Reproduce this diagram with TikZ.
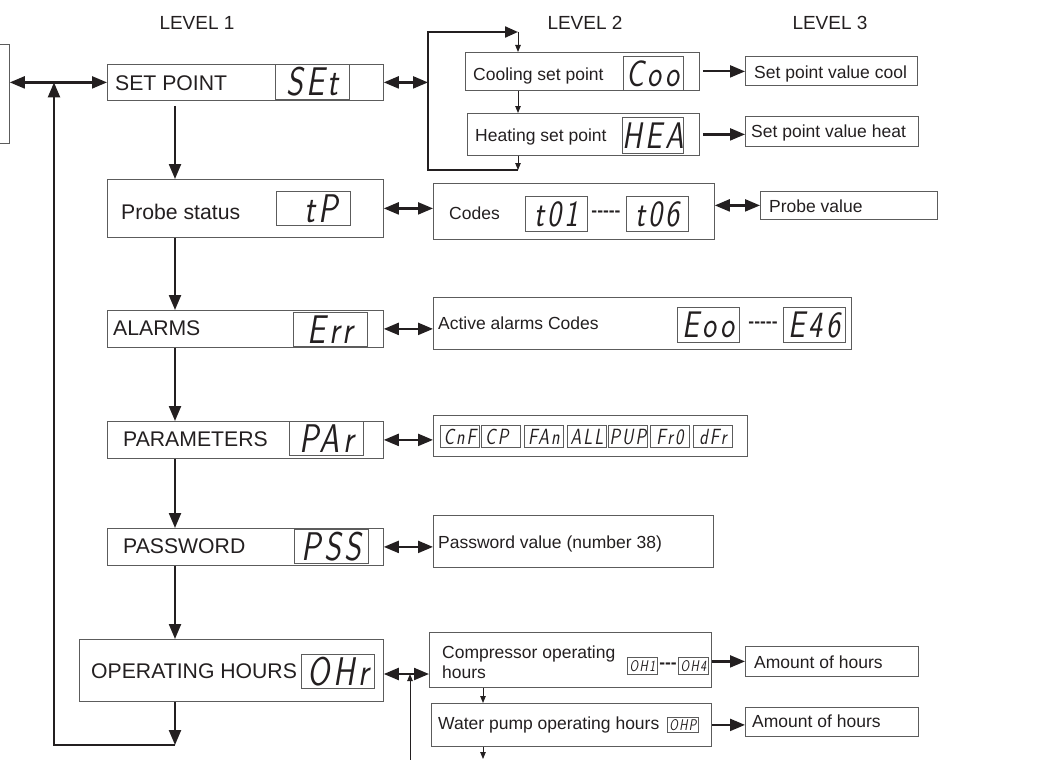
\documentclass[tikz,border=0pt]{standalone}
\usepackage{fontspec}
\setmainfont{Liberation Sans}
\newfontfamily\segfont{lmsans17-oblique}[Extension=.otf,FakeStretch=0.8,LetterSpace=9]
\usetikzlibrary{arrows.meta,positioning}
\definecolor{ink}{HTML}{231F20}
\definecolor{frame}{HTML}{5C5C5C}
\tikzset{
  >={Triangle[length=15pt,width=12pt]},
  % boxes
  box/.style n args={2}{draw=frame,line width=0.8pt,inner sep=0pt,anchor=north west,
             minimum width=#1pt,minimum height=#2pt},
  disp/.style n args={2}{draw=frame,line width=0.8pt,inner sep=0pt,anchor=north west,
             minimum width=#1pt,minimum height=#2pt},
  segL/.style={font=\segfont\fontsize{40}{40}\selectfont,text height=27.5pt,text depth=0pt},
  segM/.style={font=\segfont\fontsize{37}{37}\selectfont,text height=25.5pt,text depth=0pt},
  segS/.style={font=\segfont\fontsize{22}{22}\selectfont,text height=15.2pt,text depth=0pt},
  segT/.style={font=\segfont\fontsize{15.5}{16}\selectfont,text height=10.7pt,text depth=0pt},
  head/.style={font=\fontsize{19}{21}\selectfont,inner sep=0pt},
  lab1/.style={font=\fontsize{21.2}{23}\selectfont,anchor=west,inner sep=0pt,
             text height=15.2pt,text depth=0pt},
  lab2/.style={font=\fontsize{17.5}{20}\selectfont,anchor=west,inner sep=0pt,
             text height=12.5pt,text depth=0pt},
  dots/.style={font=\bfseries\fontsize{17.5}{20}\selectfont,inner sep=0pt},
  % connectors
  flow/.style={draw=ink,line width=2.2pt},
  lite/.style={draw=ink,line width=0.9pt,-{Triangle[length=7pt,width=5.5pt]}},
}
\begin{document}
\begin{tikzpicture}[x=1pt,y=-1pt,every node/.append style={text=ink}]
  \useasboundingbox (0,0) rectangle (1041,760);
  \clip (0,0) rectangle (1041,760);

  % level titles
  \node[head] (lv1) at (197,23) {LEVEL 1};
  \node[head] (lv2) at (585,23) {LEVEL 2};
  \node[head] (lv3) at (830,23) {LEVEL 3};

  % level 1
  \node[box={50}{99}] (menu) at (-41,44) {};
  \node[box={276}{36}] (setp) at (107,64) {};
  \node[lab1] (setpt) at (115,83) {SET POINT};
  \node[disp={74}{35},segL] (setpd) at (275,64) {SEt};
  \node[box={276}{58}] (probe) at (107,179) {};
  \node[lab1] (probet) at (121,212) {Probe status};
  \node[disp={74}{34},segL] (probed) at (276,191) {\hphantom{0}tP};
  \node[box={276}{37}] (alarm) at (107,310) {};
  \node[lab1] (alarmt) at (113,328) {ALARMS};
  \node[disp={74}{34},segL] (alarmd) at (293,312) {Err};
  \node[box={276}{37}] (param) at (107,421) {};
  \node[lab1] (paramt) at (123,439) {PARAMETERS};
  \node[disp={74}{34},segL] (paramd) at (289,421) {PAr};
  \node[box={276}{37}] (pass) at (107,528) {};
  \node[lab1] (passt) at (123,546) {PASSWORD};
  \node[disp={74}{34},segL] (passd) at (294,529) {PSS};
  \node[box={304}{62}] (ophr) at (79,639) {};
  \node[lab1] (ophrt) at (91,671) {OPERATING HOURS};
  \node[disp={73}{34},segL] (ophrd) at (301,654) {OHr};

  % level 2
  \node[box={234}{38}] (cool) at (465,52) {};
  \node[lab2] (coolt) at (473,74) {Cooling set point};
  \node[disp={60}{34},segM] (coold) at (623,56) {Coo};
  \node[box={232}{42}] (heat) at (467,113) {};
  \node[lab2] (heatt) at (475,135) {Heating set point};
  \node[disp={60}{36},segM] (heatd) at (622,117) {HEA};
  \node[box={281}{56}] (codes) at (433,183) {};
  \node[lab2] (codest) at (449,213) {Codes};
  \node[disp={62}{35},segM] (tfirst) at (525,196) {t01};
  \node[dots] (dashA) at (606,214) {-{}-{}-{}-{}-};
  \node[disp={62}{35},segM] (tlast) at (626,196) {t06};
  \node[box={418}{52}] (active) at (433,297) {};
  \node[lab2] (activet) at (438,323) {Active alarms Codes};
  \node[disp={62}{35},segM] (efirst) at (677,307) {Eoo};
  \node[dots] (dashB) at (763,325) {-{}-{}-{}-{}-};
  \node[disp={62}{35},segM] (elast) at (783,307) {E46};
  \node[box={314}{41}] (parcodes) at (433,415) {};
  \node[disp={39}{22},segS] (pcnf) at (440,425) {CnF};
  \node[disp={39}{22},segS] (pcp) at (481,425) {CP\hphantom{0}};
  \node[disp={39}{22},segS] (pfan) at (524,425) {FAn};
  \node[disp={39}{22},segS] (pall) at (567,425) {ALL};
  \node[disp={39}{22},segS] (ppup) at (608,425) {PUP};
  \node[disp={39}{22},segS] (pfro) at (650,425) {Fr0};
  \node[disp={39}{22},segS] (pdfr) at (693,425) {dFr};
  \node[box={280}{52}] (pwval) at (433,515) {};
  \node[lab2] (pwvalt) at (438,542) {Password value (number 38)};
  \node[box={282}{55}] (comp) at (429,632) {};
  \node[lab2,anchor=north west,align=left,text height=,text depth=] (compt) at (442,646)
    {Compressor operating\\hours};
  \node[disp={30}{17},segT] (ohfirst) at (627,657) {OH1};
  \node[dots] (dashC) at (668,666) {-{}-{}-};
  \node[disp={30}{17},segT] (ohlast) at (678,657) {OH4};
  \node[box={280}{43}] (pump) at (431,703) {};
  \node[lab2] (pumpt) at (438,723) {Water pump operating hours};
  \node[disp={31}{15},segT] (ohp) at (667,717) {OHP};

  % level 3
  \node[box={172}{29}] (coolv) at (745,56) {};
  \node[lab2] (coolvt) at (754,72) {Set point value cool};
  \node[box={173}{30}] (heatv) at (745,116) {};
  \node[lab2] (heatvt) at (751,131) {Set point value heat};
  \node[box={177}{28}] (probev) at (760,191) {};
  \node[lab2] (probevt) at (769,206) {Probe value};
  \node[box={173}{30}] (hours) at (745,646) {};
  \node[lab2] (hourst) at (754,662) {Amount of hours};
  \node[box={173}{29}] (pumph) at (745,707) {};
  \node[lab2] (pumpht) at (752,721) {Amount of hours};

  % helper points
  \coordinate (spine) at (175,0);
  \coordinate (ret) at (54,745);
  \coordinate (retend) at (175,745);
  \coordinate (barT) at (428,32);
  \coordinate (barB) at (428,170);
  \coordinate (lvx) at (518,0);
  \coordinate (pumpx) at (483,0);
  \coordinate (pumpfoot) at (483,759);
  \coordinate (opj) at (410,674);
  \coordinate (opfoot) at (410,765);

  % level 1 chain
  \draw[flow,<->] (menu.east |- setp.west) -- (setp.west);
  \draw[flow,->] ([yshift=-5pt]setp.south -| spine) -- (probe.north -| spine);
  \draw[flow,->] (probe.south -| spine) -- (alarm.north -| spine);
  \draw[flow,->] (alarm.south -| spine) -- (param.north -| spine);
  \draw[flow,->] (param.south -| spine) -- (pass.north -| spine);
  \draw[flow,->] (pass.south -| spine) -- (ophr.north -| spine);
  \draw[flow,->] (ophr.south -| spine) -- (retend);
  \draw[flow,->] (retend) -- (ret) -- (ret |- setp.west);

  % level 1 <-> level 2
  \draw[flow,<->] (setp.east) -- (setp.east -| barT);
  \draw[flow,-{Triangle[length=13pt,width=11pt]}] (barB -| lvx) -- (barB) -- (barT) -- (barT -| lvx);
  \draw[lite] (barT -| lvx) -- (cool.north -| lvx);
  \draw[lite] (cool.south -| lvx) -- (heat.north -| lvx);
  \draw[lite] (heat.south -| lvx) -- (barB -| lvx);
  \draw[flow,<->] (probe.east) -- (probe.east -| codes.west);
  \draw[flow,<->] (alarm.east) -- (alarm.east -| active.west);
  \draw[flow,<->] (param.east) -- (param.east -| parcodes.west);
  \draw[flow,<->] (pass.east) -- (pass.east -| pwval.west);
  \draw[flow,<->] (ophr.east |- opj) -- (comp.west |- opj);
  \draw[lite] (opfoot) -- (opj);

  % level 2 -> level 3
  \draw[flow,->] ([xshift=3pt]cool.east) -- (cool.east -| coolv.west);
  \draw[flow,->] ([xshift=3pt]heat.east) -- (heat.east -| heatv.west);
  \draw[flow,<->] (probev.west -| codes.east) -- (probev.west);
  \draw[flow,->] (comp.east |- hours.west) -- (hours.west);
  \draw[flow,->] (pump.east) -- (pump.east -| pumph.west);
  \draw[lite] (comp.south -| pumpx) -- (pump.north -| pumpx);
  \draw[lite] (pump.south -| pumpx) -- (pumpfoot);
\end{tikzpicture}
\end{document}
